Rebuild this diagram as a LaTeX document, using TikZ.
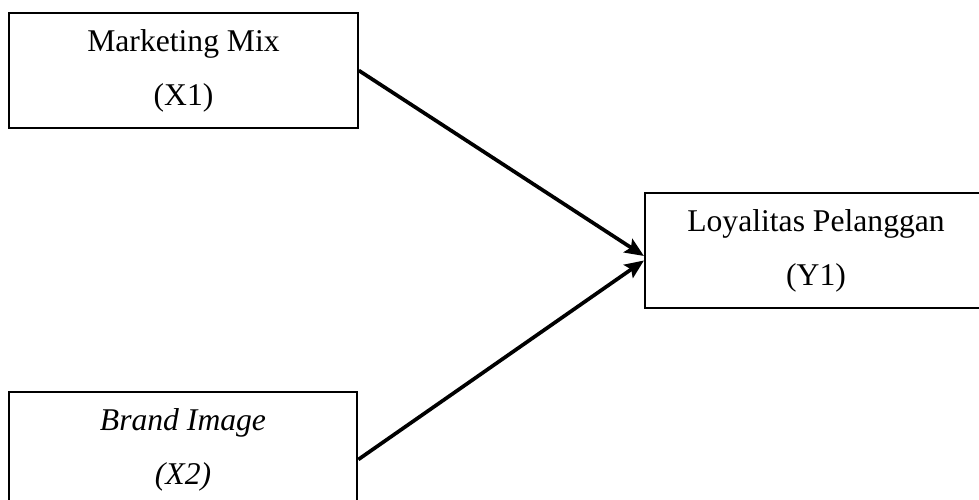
\documentclass[tikz,border=0pt]{standalone}
\usepackage{fontspec}
\setmainfont{Liberation Serif}
\usetikzlibrary{arrows.meta,positioning,calc}

\begin{document}
\begin{tikzpicture}[
    box/.style={draw,line width=1.2pt,inner sep=0pt,minimum width=6.97cm,minimum height=2.3cm,align=center,font=\fontsize{18}{30.7}\selectfont},
    >={Stealth[length=0.38cm,width=0.32cm,inset=0.07cm]}
]
\useasboundingbox (0,0) rectangle (19.58,-10);
\node[box] (mix) at (3.67,-1.41) {Marketing Mix\\(X1)};
\node[box,font=\fontsize{18}{30.7}\selectfont\itshape] (brand) at (3.66,-8.99) {Brand Image\\(X2)};
\node[box,minimum width=6.84cm] (loyal) at (16.32,-5.01) {Loyalitas Pelanggan\\(Y1)};
\draw[->,line width=2.1pt] (mix.east) -- ([yshift=-0.11cm]loyal.west);
\draw[->,line width=2.1pt] ([yshift=-0.2cm]brand.east) -- ([yshift=-0.2cm]loyal.west);
\end{tikzpicture}
\end{document}
